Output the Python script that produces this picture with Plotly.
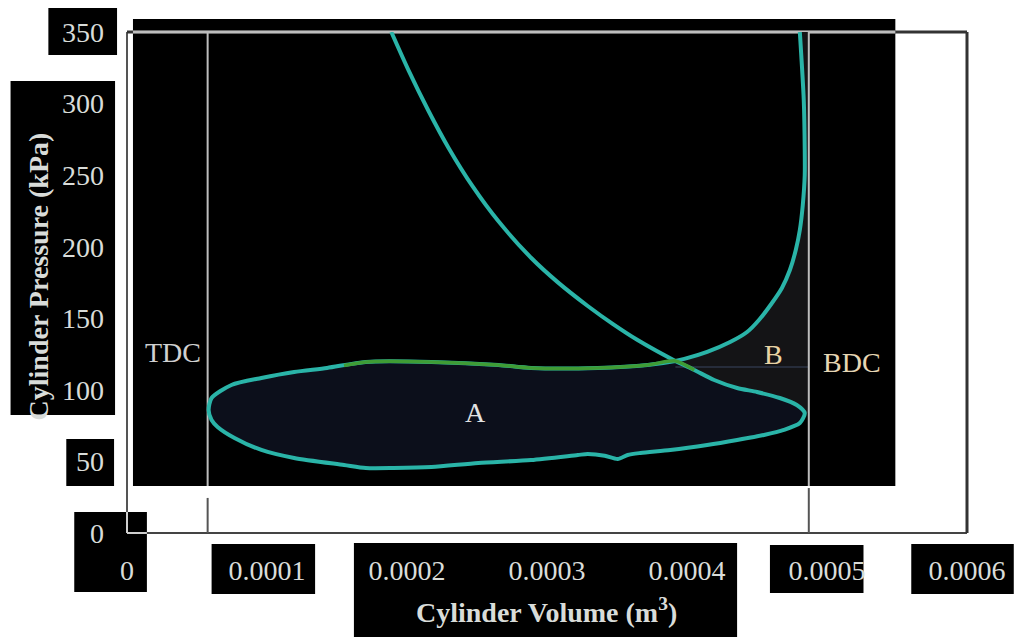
import plotly.graph_objects as go

# ---- data (volume in 1e-4 m^3, pressure in kPa) ----
SCALE = 1e-4

expansion_v = [1.888, 2.012, 2.154, 2.296, 2.474, 2.652, 2.886, 3.078, 3.291, 3.469, 3.647, 3.917]
expansion_p = [350.0, 323.0, 294.8, 269.2, 241.4, 217.9, 192.3, 175.1, 158.6, 146.1, 134.8, 120.2]

loop_v = [3.917, 4.052, 4.194, 4.358, 4.500, 4.663, 4.784, 4.841, 4.806, 4.692, 4.550, 4.358,
          4.144, 3.881, 3.668, 3.576, 3.505, 3.412, 3.291, 3.220, 2.886, 2.509, 2.175, 1.905,
          1.706, 1.550, 1.194, 0.960, 0.768, 0.647, 0.604, 0.583, 0.604, 0.746, 0.960, 1.194,
          1.429, 1.706, 2.175, 2.652, 2.886, 3.362, 3.718, 3.917]
loop_p = [120.2, 113.9, 106.9, 101.3, 98.5, 94.3, 89.4, 83.8, 76.8, 72.0, 68.5, 65.0,
          61.5, 58.0, 55.9, 54.5, 51.7, 54.0, 55.2, 54.5, 51.0, 48.9, 46.1, 45.4,
          45.4, 47.5, 52.4, 58.0, 66.4, 74.1, 78.9, 85.9, 94.3, 103.4, 108.3, 112.5,
          115.3, 119.5, 119.5, 117.4, 115.3, 115.3, 117.4, 120.2]

compression_v = [3.917, 3.981, 4.144, 4.308, 4.429, 4.514, 4.607, 4.678, 4.735, 4.777,
                 4.806, 4.827, 4.841, 4.841, 4.834, 4.806]
compression_p = [120.2, 121.6, 126.5, 133.4, 140.4, 148.8, 160.7, 171.2, 183.7, 197.7,
                 211.7, 229.1, 250.1, 267.6, 302.5, 350.0]

intake_v = [1.550, 1.706, 2.175, 2.652, 2.886, 3.362, 3.718, 3.917, 4.052]
intake_p = [117.0, 119.5, 119.5, 117.4, 115.3, 115.3, 117.4, 120.2, 113.9]

TDC_V = 0.576
BDC_V = 4.870
AMBIENT_P = 116.0

x_tickvals = [0, 1, 2, 3, 4, 5, 6]
x_ticktext = ["0", "0.0001", "0.0002", "0.0003", "0.0004", "0.0005", "0.0006"]
y_tickvals = [0, 50, 100, 150, 200, 250, 300, 350]

# ---- layout geometry ----
W, H = 1018, 637
ML, MR, MT, MB = 127, 47, 32, 104
PW, PH = W - ML - MR, H - MT - MB


def paper_x(px):
    return (px - ML) / PW


def paper_y(py):
    return (H - MB - py) / PH


def sv(vals):
    return [v * SCALE for v in vals]


CYAN = "#2ab4a8"
GREEN = "#3f9c35"
LIGHT = "#d9dcd9"
SERIF = "Liberation Serif"
SMOOTH = dict(shape="spline", smoothing=0.7)

fig = go.Figure()

# region A: inside the low-pressure loop
fig.add_trace(go.Scatter(x=sv(loop_v), y=loop_p, mode="lines", fill="toself",
                         fillcolor="#0c0f1b", line=dict(width=0, **SMOOTH), hoverinfo="skip"))

# region B: between the compression curve and BDC
tip = loop_v.index(max(loop_v[:10]))
b_v = compression_v + [BDC_V, BDC_V] + loop_v[:tip + 1][::-1]
b_p = compression_p + [compression_p[-1], loop_p[tip]] + loop_p[:tip + 1][::-1]
fig.add_trace(go.Scatter(x=sv(b_v), y=b_p, mode="lines", fill="toself",
                         fillcolor="#141416", line=dict(width=0), hoverinfo="skip"))

# ambient-pressure reference from the crossing to BDC
fig.add_trace(go.Scatter(x=sv([intake_v[-2], BDC_V]), y=[AMBIENT_P, AMBIENT_P], mode="lines",
                         line=dict(color="#262c3a", width=2), hoverinfo="skip"))

# TDC / BDC markers
for v, tick_top in ((TDC_V, 24.5), (BDC_V, 31.4)):
    fig.add_trace(go.Scatter(x=sv([v, v]), y=[32.8, 350], mode="lines",
                             line=dict(color="#bdbdbd", width=2), hoverinfo="skip"))
    fig.add_trace(go.Scatter(x=sv([v, v]), y=[0, tick_top], mode="lines",
                             line=dict(color="#555555", width=2), hoverinfo="skip"))

# the P-V cycle
cycle_v = expansion_v + loop_v[1:] + compression_v[1:]
cycle_p = expansion_p + loop_p[1:] + compression_p[1:]
fig.add_trace(go.Scatter(x=sv(cycle_v), y=cycle_p, mode="lines",
                         line=dict(color=CYAN, width=4, **SMOOTH), hoverinfo="skip"))
fig.add_trace(go.Scatter(x=sv(intake_v), y=intake_p, mode="lines",
                         line=dict(color=GREEN, width=3.5, **SMOOTH), hoverinfo="skip"))

# dark panels behind the plot and the labels (pixel rectangles)
panels = [
    (133, 19, 899, 486),
    (48, 8, 117, 55),
    (10, 81, 115, 415),
    (66, 439, 114, 486),
    (74, 512, 147, 592),
    (212, 544, 316, 594),
    (355, 543, 740, 637),
    (773, 545, 867, 593),
    (915, 544, 1018, 594),
]
shapes = []
for x0, y0, x1, y1 in panels:
    shapes.append(dict(type="rect", xref="paper", yref="paper", layer="below",
                       x0=paper_x(x0), x1=paper_x(x1), y0=paper_y(y1), y1=paper_y(y0),
                       fillcolor="black", line=dict(width=0)))


def seg(x0, y0, x1, y1, color, width):
    shapes.append(dict(type="line", xref="paper", yref="paper", layer="below",
                       x0=x0, y0=y0, x1=x1, y1=y1, line=dict(color=color, width=width)))


# plot frame
seg(0, 0, 0, 1, "#555555", 2)
seg(0, 0, 1, 0, "#444444", 2)
seg(1, 0, 1, 1, "#333333", 3)
seg(0, 1, 1, 1, "#333333", 3)
seg(paper_x(133), 1, paper_x(899), 1, "#bdbdbd", 3)
seg(0, 0, 0, paper_y(512), "#cfcfcf", 2)
seg(0, 0, paper_x(147), 0, "#cfcfcf", 2)


def label(text, x, y, color, **kw):
    return dict(text=text, x=x, y=y, showarrow=False, xanchor="center", yanchor="middle",
                font=dict(family=SERIF, size=28, color=color), **kw)


annotations = [
    label("TDC", 0.327 * SCALE, 126.4, "#d0d0d0", xref="x", yref="y"),
    label("BDC", 5.175 * SCALE, 118.8, "#e6d6b4", xref="x", yref="y"),
    label("B", 4.621 * SCALE, 124.4, "#e8d3a4", xref="x", yref="y"),
    label("A", 2.488 * SCALE, 84.5, "#e2e2e2", xref="x", yref="y"),
    label("<b>Cylinder Pressure (kPa)</b>", paper_x(38), paper_y(276), LIGHT,
          xref="paper", yref="paper", textangle=-90),
    label("<b>Cylinder Volume (m<sup>3</sup>)</b>", paper_x(548), paper_y(610), LIGHT,
          xref="paper", yref="paper"),
]

fig.update_layout(
    width=W, height=H,
    margin=dict(l=ML, r=MR, t=MT, b=MB, pad=0),
    paper_bgcolor="white", plot_bgcolor="rgba(0,0,0,0)",
    showlegend=False,
    shapes=shapes,
    annotations=annotations,
    xaxis=dict(range=[0, 6 * SCALE], tickvals=sv(x_tickvals), ticktext=x_ticktext,
               showgrid=False, zeroline=False, showline=False, ticks="",
               ticklabelstandoff=18,
               tickfont=dict(family=SERIF, size=28, color=LIGHT)),
    yaxis=dict(range=[0, 350], tickvals=y_tickvals, showgrid=False, zeroline=False,
               showline=False, ticks="", ticklabelstandoff=22,
               tickfont=dict(family=SERIF, size=28, color=LIGHT)),
)

fig.write_html("out.html")
